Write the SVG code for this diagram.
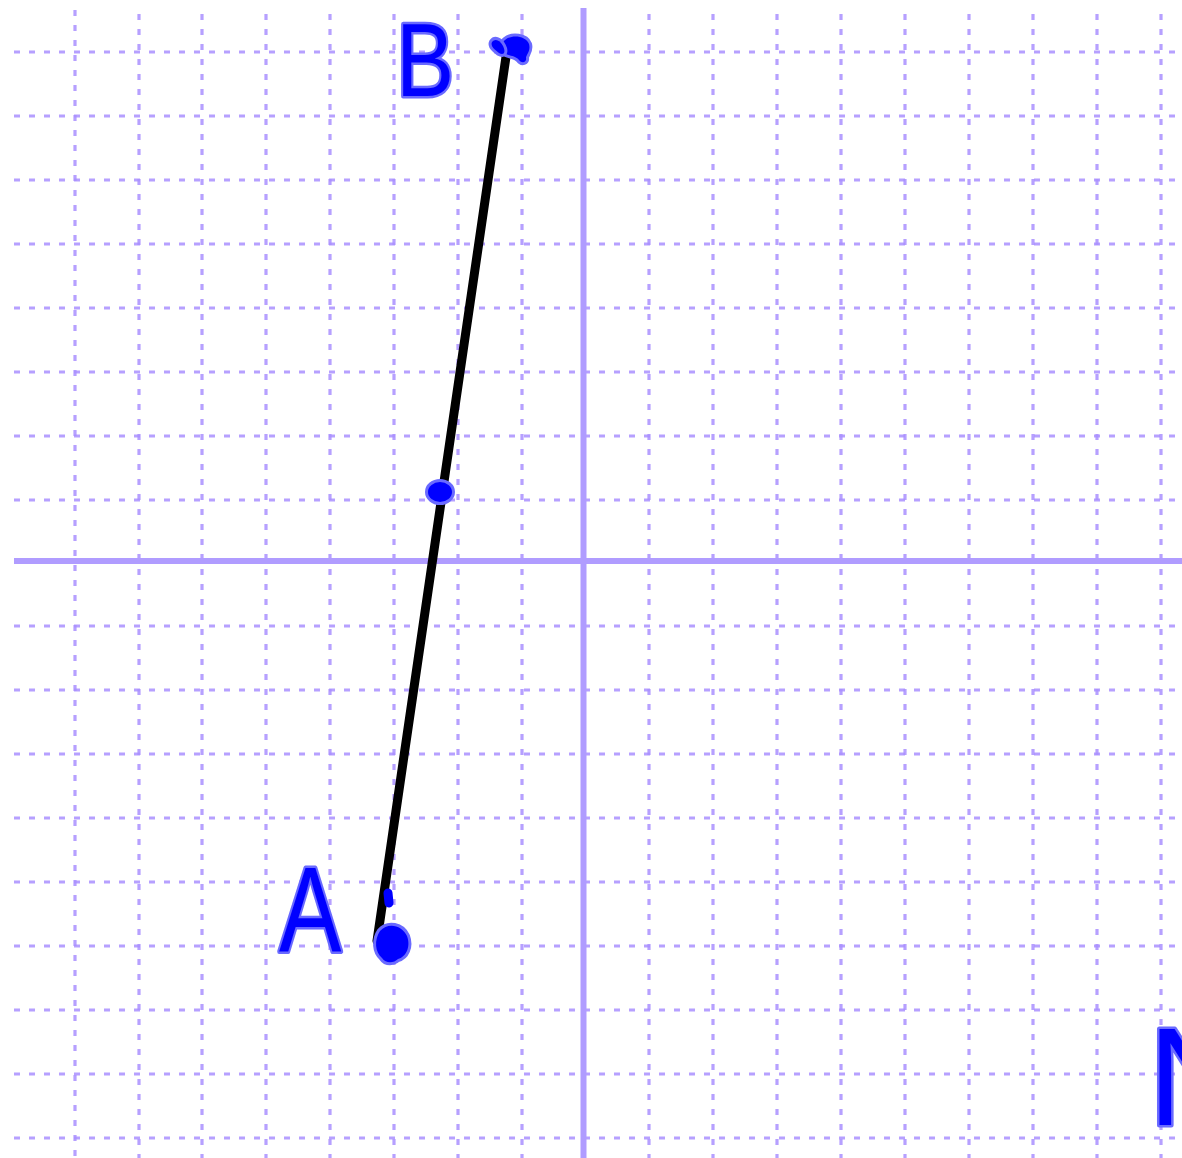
<svg xmlns="http://www.w3.org/2000/svg" width="1182" height="1158" viewBox="0 0 1182 1158">
<style>
.grid{fill:none;stroke:#a98fff;stroke-width:3.2;stroke-dasharray:6 9;stroke-opacity:0.85}
.axis{fill:none;stroke:#b09cff;stroke-width:6}
.seg{fill:none;stroke:#000;stroke-width:9;stroke-linecap:round}
.ink{fill:#0000ff;stroke:#6a6aff;stroke-width:6;stroke-linejoin:round;paint-order:stroke}
.inkline{fill:none;stroke:#0000ff;stroke-width:9;stroke-linecap:round}
.lbl{font-family:"Liberation Sans",Arial,sans-serif;fill:#0000ff;stroke:#6a6aff;stroke-width:5;paint-order:stroke;stroke-linejoin:round}
</style>
<rect width="1182" height="1158" fill="#ffffff"/>
<g id="grid">
<path class="grid" d="M14 52H1182M14 116H1182M14 180H1182M14 244H1182M14 308H1182M14 372H1182M14 436H1182M14 500H1182M14 626H1182M14 690H1182M14 754H1182M14 818H1182M14 882H1182M14 946H1182M14 1010H1182M14 1074H1182M14 1138H1182"/>
<path class="grid" d="M75 10V1158M139 14V1158M202 14V1158M266 14V1158M330 14V1158M394 14V1158M458 14V1158M522 14V1158M649 14V1158M713 14V1158M777 14V1158M841 14V1158M905 14V1158M969 14V1158M1033 14V1158M1097 14V1158M1161 14V1158"/>
</g>
<g id="axes">
<path class="axis" d="M14 561H1182M583.5 8V1158"/>
</g>
<g id="connectors">
<line class="seg" x1="377" y1="941" x2="507" y2="50"/>
</g>
<g id="point-B">
<path class="ink" d="M505 40C512 34 526 36 529 44C531 51 526 55 526 58C527 62 522 64 519 60C516 56 510 56 506 54C502 50 500 44 505 40Z"/>
<path class="ink" d="M492 42C495 38 500 40 503 46C506 52 504 56 499 53C495 50 490 46 492 42Z"/>
</g>
<g id="midpoint">
<ellipse class="ink" cx="440" cy="492" rx="12" ry="10"/>
</g>
<g id="point-A">
<path class="ink" d="M380 931C388 922 402 925 407 936C411 947 406 957 398 959C394 963 386 964 382 958C375 952 374 940 380 931Z"/>
<line class="inkline" x1="388" y1="893" x2="389" y2="903"/>
</g>
<g id="label-A">
<text class="lbl" transform="translate(279,951) scale(0.78,1)" x="0" y="0" font-size="120">A</text>
</g>
<g id="label-B">
<text class="lbl" transform="translate(396,96) scale(0.84,1)" x="0" y="0" font-size="104">B</text>
</g>
<g id="label-N">
<text class="lbl" x="1148" y="1125" font-size="140">N</text>
</g>
</svg>
